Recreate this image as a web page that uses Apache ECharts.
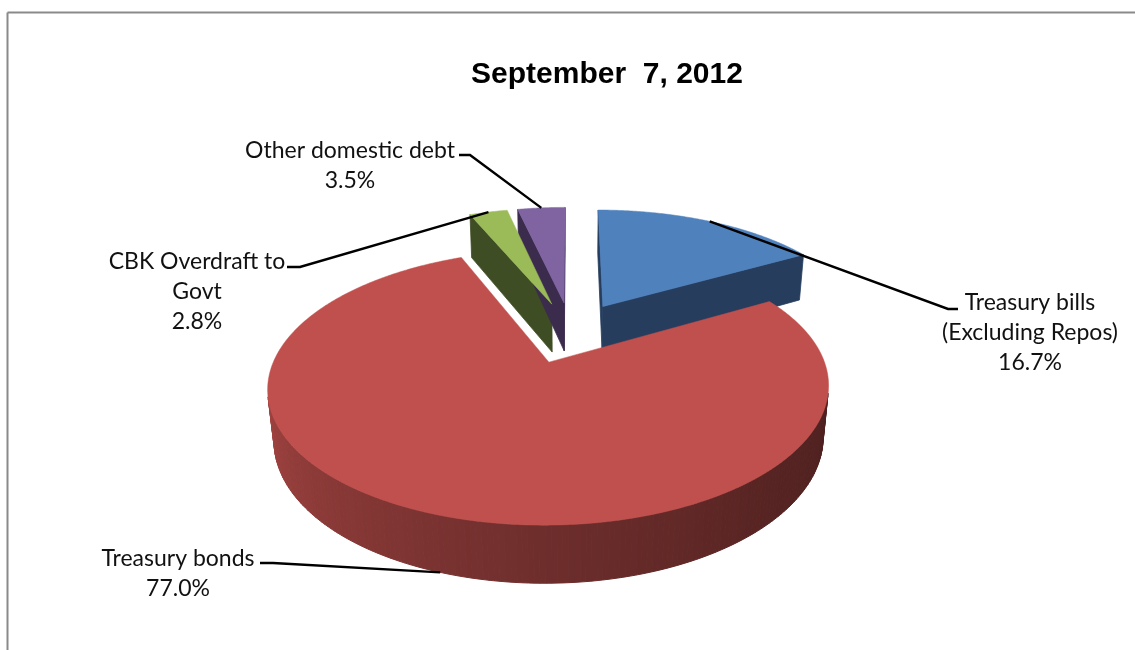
<!DOCTYPE html>
<html><head><meta charset="utf-8">
<script src="https://cdn.jsdelivr.net/npm/echarts@6/dist/echarts.min.js"></script>
<style>html,body{margin:0;padding:0;background:#fff;overflow:hidden}#chart{width:1135px;height:650px}</style>
</head><body><div id="chart"></div>
<script>
// ---- data ----
const titleText = 'September  7, 2012';
const categories = ['Treasury bills\n(Excluding Repos)', 'Treasury bonds', 'CBK Overdraft to\nGovt', 'Other domestic debt'];
const shares = [16.7, 77.0, 2.8, 3.5];

// ---- styles ----
const topColors = ['#4f81bd', '#c0504d', '#9bbb59', '#8064a2'];
const faceColors = ['#263d5e', '#8a3936', '#3e4d23', '#3b2b4d'];
// ---- layout ----
const view = { cx: 571, cy: 332, f: 1320, D: 5, tilt: 27.5, H: 0.215, explode: 0.25 };
const labelCenter = [[1030, 333], [178, 574], [197, 292], [350, 166]];
const leaderElbow = [[948, 309], [273, 563], [300, 267], [470, 155]];
const leaderEnd = [[958, 309], [260, 563], [287, 267], [459, 155]];

const rad = Math.PI / 180;
const total = shares.reduce((a, b) => a + b, 0);
const startA = [], endA = [];
let acc = 0;
shares.forEach(v => { startA.push(acc / total * 360); acc += v; endA.push(acc / total * 360); });

function proj(x, y, z) {
  const s = Math.sin(view.tilt * rad), c = Math.cos(view.tilt * rad);
  const d = view.D - y * s - z * c;
  return [view.cx + view.f * x / d, view.cy - view.f * (y * c - z * s) / d];
}
function hexRgb(h) { return [parseInt(h.substr(1, 2), 16), parseInt(h.substr(3, 2), 16), parseInt(h.substr(5, 2), 16)]; }
const shadeTable = [[90, 0.39], [135, 0.45], [180, 0.57], [225, 0.72], [270, 0.88]];
function shadeFactor(psi) {
  psi = ((psi % 360) + 360) % 360;
  if (psi <= 90) return 0.39;
  if (psi >= 270) return 0.88;
  for (let k = 0; k < shadeTable.length - 1; k++) {
    const [a0, f0] = shadeTable[k], [a1, f1] = shadeTable[k + 1];
    if (psi >= a0 && psi <= a1) return f0 + (f1 - f0) * (psi - a0) / (a1 - a0);
  }
  return 0.6;
}
function shade(hex, k) { const c = hexRgb(hex); return 'rgb(' + c.map(v => Math.round(v * k)).join(',') + ')'; }

function visible(psi, px, pz) {
  const c = Math.cos(view.tilt * rad);
  const nx = Math.sin(psi * rad), nz = -Math.cos(psi * rad);
  return nx * (0 - px) + nz * (view.D * c - pz) > 0;
}

function renderItem(params, api) {
  const i = params.dataIndex;
  const a0 = startA[i], a1 = endA[i], mid = (a0 + a1) / 2;
  const ex = view.explode * Math.sin(mid * rad), ez = -view.explode * Math.cos(mid * rad);
  const H = view.H;
  const pt = (ang, r, y) => [ex + r * Math.sin(ang * rad), y, ez - r * Math.cos(ang * rad)];
  const P = (ang, r, y) => { const p = pt(ang, r, y); return proj(p[0], p[1], p[2]); };
  const front = Math.cos(mid * rad) < 0;
  const base = front ? 100 : 10;
  const children = [];
  const col = topColors[i];

  // radial faces
  const faces = [[a0, a0 - 90], [a1, a1 + 90]];
  faces.forEach(([ang, psi]) => {
    const p = pt(ang, 0.5, 0);
    if (visible(psi, p[0], p[2])) {
      children.push({ type: 'polygon', z2: base + 1,
        shape: { points: [P(ang, 0, 0), P(ang, 1, 0), P(ang, 1, -H), P(ang, 0, -H)] },
        style: { fill: faceColors[i], stroke: faceColors[i], lineWidth: 0.8 } });
    }
  });
  // outer wall
  const n = Math.max(2, Math.ceil((a1 - a0) / 1));
  for (let k = 0; k < n; k++) {
    const t0 = a0 + (a1 - a0) * k / n, t1 = a0 + (a1 - a0) * (k + 1) / n, tm = (t0 + t1) / 2;
    const p = pt(tm, 1, 0);
    if (!visible(tm, p[0], p[2])) continue;
    const fill = shade(col, shadeFactor(tm));
    children.push({ type: 'polygon', z2: base + 1,
      shape: { points: [P(t0, 1, 0), P(t1, 1, 0), P(t1, 1, -H), P(t0, 1, -H)] },
      style: { fill: fill, stroke: fill, lineWidth: 1 } });
  }
  // top face
  const pts = [P(a0, 0, 0)];
  const m = Math.max(2, Math.ceil((a1 - a0) / 0.5));
  for (let k = 0; k <= m; k++) pts.push(P(a0 + (a1 - a0) * k / m, 1, 0));
  children.push({ type: 'polygon', z2: base + 2, shape: { points: pts },
    style: { fill: col, stroke: col, lineWidth: 0.5 } });

  // leader line
  const anchor = P(mid, 1, front ? -H : 0);
  children.push({ type: 'polyline', z2: 300,
    shape: { points: [anchor, leaderElbow[i], leaderEnd[i]] },
    style: { stroke: '#000', lineWidth: 2.4, fill: null } });
  // label
  children.push({ type: 'text', z2: 310, x: labelCenter[i][0], y: labelCenter[i][1],
    style: { text: categories[i] + '\n' + shares[i].toFixed(1) + '%', fill: '#111',
      fontFamily: 'Lato', fontSize: 23, align: 'center', verticalAlign: 'middle', lineHeight: 30 } });
  return { type: 'group', children };
}

const chart = echarts.init(document.getElementById('chart'), null, { renderer: 'canvas' });
chart.setOption({
  animation: false,
  backgroundColor: '#fff',
  graphic: [
    { type: 'line', shape: { x1: 7.5, y1: 12.5, x2: 7.5, y2: 660 }, style: { stroke: '#8a8a8a', lineWidth: 2 }, silent: true },
    { type: 'line', shape: { x1: 7.5, y1: 12.5, x2: 1135, y2: 12.5 }, style: { stroke: '#8a8a8a', lineWidth: 2 }, silent: true },
    { type: 'text', x: 607, y: 75, style: { text: titleText, fontFamily: 'Liberation Sans, Arial', fontWeight: 'bold', fontSize: 30, fill: '#000', align: 'center', verticalAlign: 'middle' } }
  ],
  series: [{
    type: 'custom',
    coordinateSystem: 'none',
    silent: true,
    renderItem: renderItem,
    data: shares.map((v, i) => ({ value: v, name: categories[i] }))
  }]
});
</script></body></html>
